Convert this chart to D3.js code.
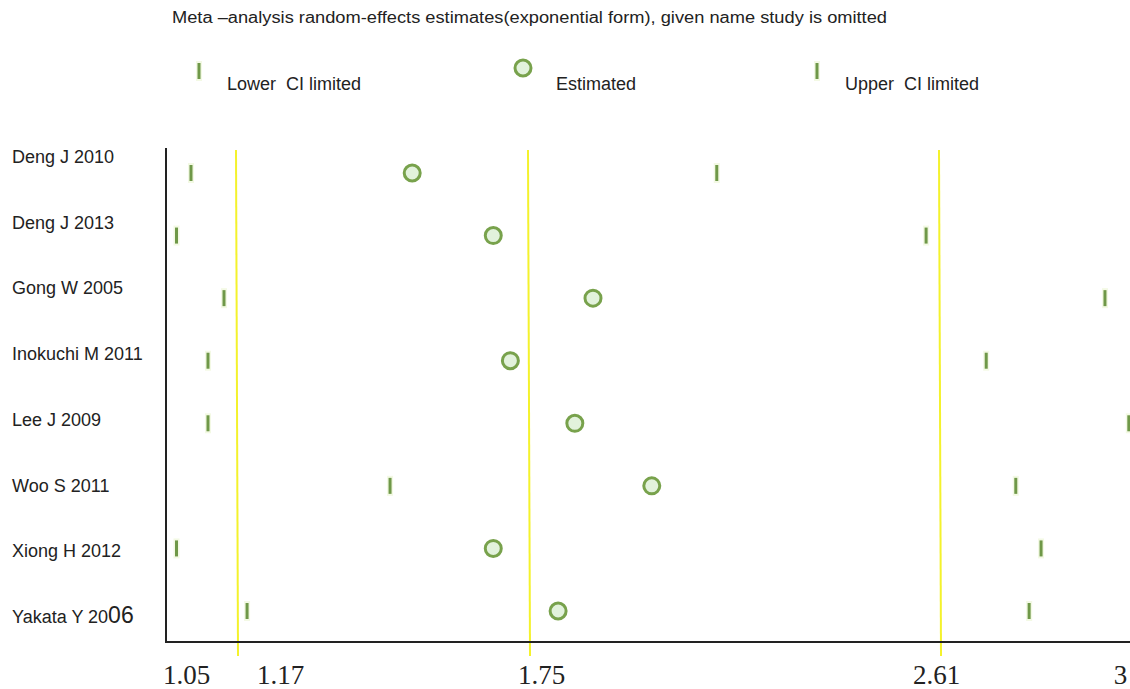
<!DOCTYPE html>
<html>
<head>
<meta charset="utf-8">
<script src="https://cdn.jsdelivr.net/npm/d3@7"></script>
<style>
  body { margin: 0; background: #fff; }
  svg { display: block; font-family: "Liberation Sans", Arial, sans-serif; }
  .study { font-size: 18px; fill: #222; }
  .legend-text { font-size: 18px; fill: #222; }
  .title { font-size: 16px; fill: #222; }
  .x-axis text { font-family: "Liberation Serif", "Times New Roman", serif; font-size: 27px; fill: #222; }
</style>
</head>
<body>
<svg id="forest" width="1130" height="689"></svg>
<script>
// Studies (one row each, top to bottom)
const studies = ["Deng J 2010", "Deng J 2013", "Gong W 2005", "Inokuchi M 2011",
                 "Lee J 2009", "Woo S 2011", "Xiong H 2012", "Yakata Y 2006"];

// Random-effects estimates when the named study is omitted
const lowerCI   = [1.080, 1.051, 1.146, 1.114, 1.114, 1.476, 1.051, 1.192];
const estimate  = [1.520, 1.681, 1.886, 1.715, 1.848, 2.009, 1.681, 1.813];
const upperCI   = [2.145, 2.583, 2.958, 2.709, 3.008, 2.771, 2.824, 2.799];

// Overall lower CI / estimate / upper CI (yellow lines)
const refLines  = [1.17, 1.75, 2.61];

// Tick labels on the x axis
const xTicks    = [1.05, 1.17, 1.75, 2.61, 3];

function whenDocumentLoaded(action) {
  if (document.readyState === "loading") {
    document.addEventListener("DOMContentLoaded", action);
  } else {
    action();
  }
}

whenDocumentLoaded(() => {
  const svg = d3.select("#forest");

  const plotLeft = 166, plotRight = 1130, plotTop = 148, plotBottom = 642;

  // the original axis is not quite linear, so map each tick piecewise
  const x = d3.scaleLinear()
              .domain(xTicks)
              .range([176, 236, 528, 939, 1125]);

  const yMark = d3.scalePoint().domain(studies).range([173, 611]);
  const yLabel = d3.scalePoint().domain(studies).range([157, 617]);

  // title
  svg.append("text")
     .attr("class", "title")
     .attr("x", 172)
     .attr("y", 23)
     .attr("textLength", 715)
     .attr("lengthAdjust", "spacingAndGlyphs")
     .text("Meta \u2013analysis random-effects estimates(exponential form), given name study is omitted");

  // legend
  const barColor = "#6f9848", ringColor = "#78a24c";

  function drawBar(g, cx, cy) {
    g.append("rect")
     .attr("x", cx - 3).attr("y", cy - 10)
     .attr("width", 6).attr("height", 20)
     .attr("fill", "#eef6d8").attr("opacity", 0.7);
    g.append("rect")
     .attr("x", cx - 1.5).attr("y", cy - 8)
     .attr("width", 3).attr("height", 16)
     .attr("fill", barColor);
  }
  function drawRing(g, cx, cy) {
    g.append("circle")
     .attr("cx", cx).attr("cy", cy).attr("r", 8)
     .attr("fill", "#e2f2dc")
     .attr("stroke", ringColor)
     .attr("stroke-width", 3);
  }

  const legend = [
    { label: "Lower  CI limited", mx: 199, tx: 227, kind: "bar" },
    { label: "Estimated",         mx: 523, tx: 556, kind: "ring" },
    { label: "Upper  CI limited", mx: 817, tx: 845, kind: "bar" }
  ];
  legend.forEach(d => {
    const g = svg.append("g");
    if (d.kind === "bar") drawBar(g, d.mx, 71); else drawRing(g, d.mx, 68);
    g.append("text")
     .attr("class", "legend-text")
     .attr("x", d.tx).attr("y", 90)
     .style("white-space", "pre")
     .text(d.label);
  });

  // reference lines
  svg.selectAll("line.ref")
     .data(refLines)
     .enter()
     .append("line")
     .classed("ref", true)
     .attr("x1", d => x(d)).attr("x2", d => x(d) + 2)
     .attr("y1", 150).attr("y2", 656)
     .attr("stroke", "#f4f22c")
     .attr("stroke-width", 2);

  // axes frame
  svg.append("line")
     .attr("x1", plotLeft).attr("x2", plotLeft)
     .attr("y1", plotTop).attr("y2", plotBottom)
     .attr("stroke", "#222").attr("stroke-width", 2);

  const xAxis = svg.append("g")
     .attr("class", "x-axis")
     .attr("transform", `translate(0,${plotBottom})`)
     .call(d3.axisBottom(x).tickValues(xTicks).tickSize(0).tickPadding(23)
             .tickFormat(d => String(d)));
  xAxis.select(".domain").remove();
  svg.append("line")
     .attr("x1", plotLeft - 1).attr("x2", plotRight)
     .attr("y1", plotBottom).attr("y2", plotBottom)
     .attr("stroke", "#222").attr("stroke-width", 2);

  // the printed labels sit a bit off their lines in the original
  const labelNudge = [10, 44, 13, -3, -5];
  xAxis.selectAll(".tick text")
       .attr("dx", (d, i) => labelNudge[i]);

  // study labels
  const labels = svg.selectAll("text.study")
     .data(studies)
     .enter()
     .append("text")
     .classed("study", true)
     .attr("x", 12)
     .attr("y", d => yLabel(d) + 6);
  labels.each(function (d) {
    const t = d3.select(this);
    if (d === "Yakata Y 2006") {
      t.append("tspan").text("Yakata Y 20");
      t.append("tspan").style("font-size", "23px").text("06");
    } else {
      t.text(d);
    }
  });

  // markers
  const rows = svg.selectAll("g.row")
     .data(studies)
     .enter()
     .append("g")
     .classed("row", true);

  rows.each(function (d, i) {
    const g = d3.select(this);
    const cy = yMark(d);
    drawBar(g, x(lowerCI[i]), cy);
    drawRing(g, x(estimate[i]), cy);
    drawBar(g, x(upperCI[i]), cy);
  });
});
</script>
</body>
</html>
